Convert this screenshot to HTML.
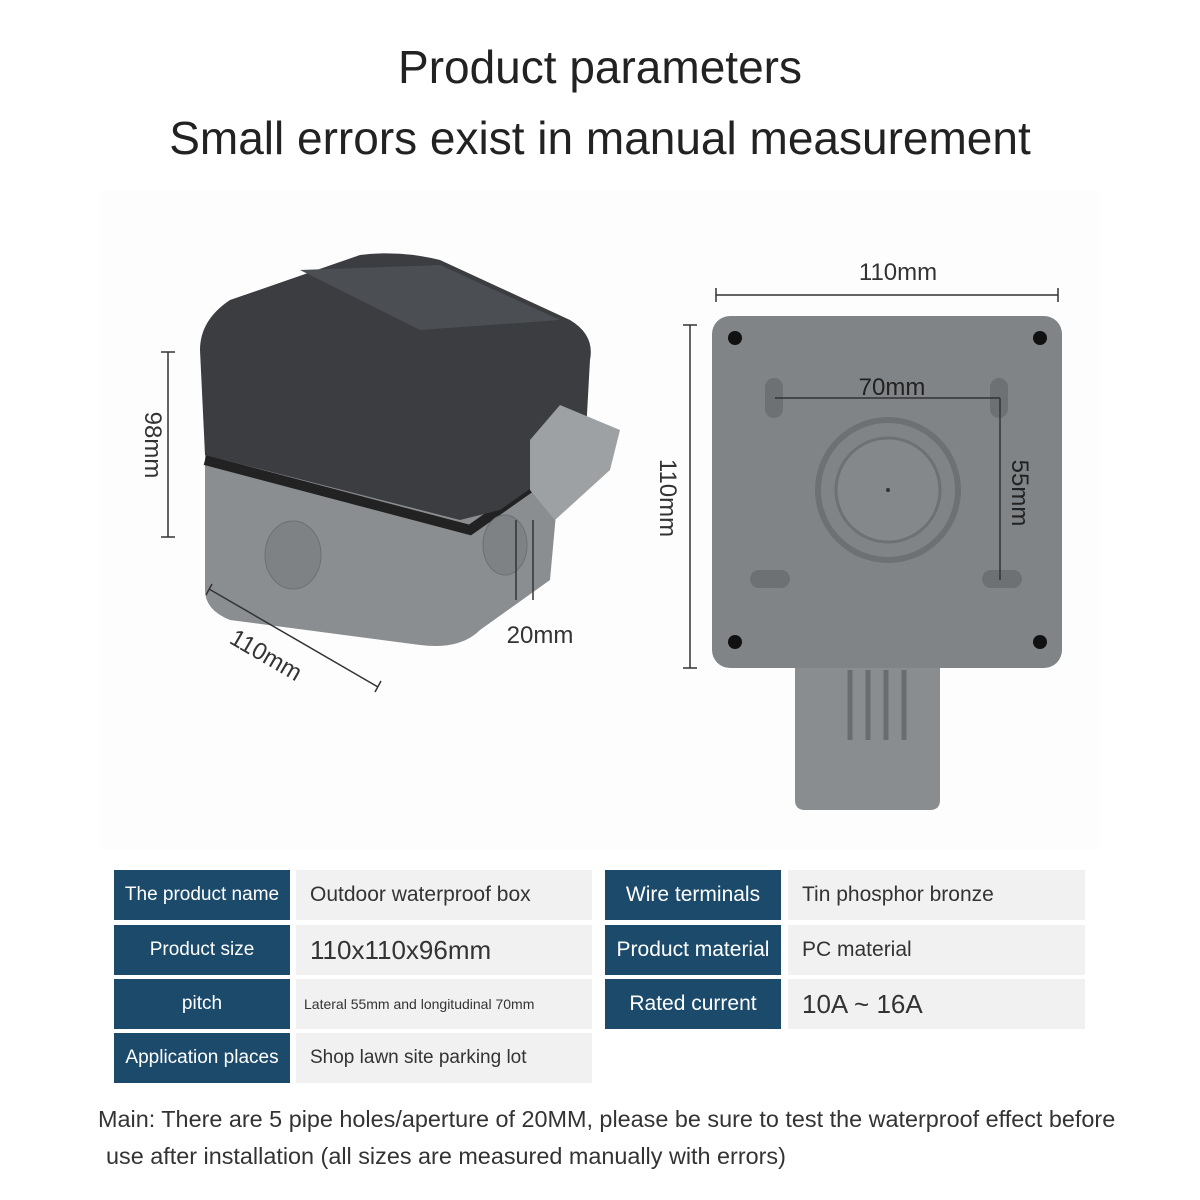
<!DOCTYPE html>
<html><head><style>
body{margin:0;width:1200px;height:1200px;background:#fff;font-family:"Liberation Sans",sans-serif;position:relative;overflow:hidden}
.t{position:absolute;left:0;width:1200px;text-align:center;color:#222}
.c{position:absolute;display:flex;align-items:center;font-size:20px}
.l{background:#1b4a6b;color:#fff;justify-content:center;font-size:19px}
.v{background:#f1f1f1;color:#333;padding-left:14px;box-sizing:border-box;font-size:21px}
.note{position:absolute;left:98px;font-size:23.4px;color:#333;white-space:nowrap}
</style></head><body>
<div class="t" style="top:40px;font-size:46px">Product parameters</div>
<div class="t" style="top:111px;font-size:46px">Small errors exist in manual measurement</div>
<div style="position:absolute;left:100px;top:190px;width:1000px;height:660px;background:#fdfdfd"></div>
<svg style="position:absolute;left:0;top:0" width="1200" height="860">
<path d="M205 450 L205 590 Q205 610 230 620 L420 645 Q460 650 480 630 L550 580 L560 470 Z" fill="#8b8e91"/>
<path d="M205 460 L470 530 L555 470" stroke="#222" stroke-width="10" fill="none"/>
<path d="M200 350 Q200 320 230 300 L360 255 Q400 250 440 260 L570 320 Q595 335 590 360 L585 450 L500 510 L460 520 L205 455 Z" fill="#3b3d40"/>
<path d="M300 270 L440 265 L560 320 L420 330 Z" fill="#4b4e52"/>
<path d="M530 440 L560 405 L620 430 L610 470 L555 520 L530 490 Z" fill="#9ea1a4"/>
<ellipse cx="293" cy="555" rx="28" ry="34" fill="#7f8285" stroke="#6d7073"/>
<ellipse cx="505" cy="545" rx="22" ry="30" fill="#7f8285" stroke="#6d7073"/>
<g stroke="#333" stroke-width="1.5" fill="none">
<line x1="168" y1="352" x2="168" y2="537"/><line x1="161" y1="352" x2="175" y2="352"/><line x1="161" y1="537" x2="175" y2="537"/>
<line x1="209" y1="589" x2="378" y2="687"/><line x1="206" y1="595" x2="212" y2="584"/><line x1="375" y1="692" x2="381" y2="681"/>
<line x1="516" y1="520" x2="516" y2="600"/><line x1="533" y1="520" x2="533" y2="600"/>
<line x1="716" y1="295" x2="1058" y2="295"/><line x1="716" y1="288" x2="716" y2="302"/><line x1="1058" y1="288" x2="1058" y2="302"/>
<line x1="690" y1="325" x2="690" y2="668"/><line x1="683" y1="325" x2="697" y2="325"/><line x1="683" y1="668" x2="697" y2="668"/>
</g>
<text x="145" y="445" font-size="24" fill="#333" transform="rotate(90 145 445)" text-anchor="middle" font-family="Liberation Sans">98mm</text>
<text x="262" y="662" font-size="24" fill="#333" transform="rotate(30 262 662)" text-anchor="middle" font-family="Liberation Sans">110mm</text>
<text x="540" y="643" font-size="24" fill="#333" text-anchor="middle" font-family="Liberation Sans">20mm</text>
<text x="898" y="280" font-size="24" fill="#333" text-anchor="middle" font-family="Liberation Sans">110mm</text>
<text x="660" y="498" font-size="24" fill="#333" transform="rotate(90 660 498)" text-anchor="middle" font-family="Liberation Sans">110mm</text>
<path d="M795 660 L940 660 L940 800 Q940 810 930 810 L805 810 Q795 810 795 800 Z" fill="#8a8d90"/>
<g stroke="#6a6d70" stroke-width="5"><line x1="850" y1="670" x2="850" y2="740"/><line x1="868" y1="670" x2="868" y2="740"/><line x1="886" y1="670" x2="886" y2="740"/><line x1="904" y1="670" x2="904" y2="740"/></g>
<rect x="712" y="316" width="350" height="352" rx="18" fill="#818487"/>
<circle cx="888" cy="490" r="70" fill="none" stroke="#6e7174" stroke-width="6"/>
<circle cx="888" cy="490" r="52" fill="#85888b" stroke="#6e7174" stroke-width="3"/>
<circle cx="888" cy="490" r="2" fill="#333"/>
<g fill="#6e7174"><rect x="765" y="378" width="18" height="40" rx="9"/><rect x="990" y="378" width="18" height="40" rx="9"/><rect x="750" y="570" width="40" height="18" rx="9"/><rect x="982" y="570" width="40" height="18" rx="9"/></g>
<g fill="#111"><circle cx="735" cy="338" r="7"/><circle cx="1040" cy="338" r="7"/><circle cx="735" cy="642" r="7"/><circle cx="1040" cy="642" r="7"/></g>
<line x1="775" y1="398" x2="1000" y2="398" stroke="#333" stroke-width="1.5"/>
<line x1="1000" y1="398" x2="1000" y2="580" stroke="#333" stroke-width="1.5"/>
<text x="892" y="395" font-size="24" fill="#222" text-anchor="middle" font-family="Liberation Sans">70mm</text>
<text x="1012" y="493" font-size="24" fill="#222" transform="rotate(90 1012 493)" text-anchor="middle" font-family="Liberation Sans">55mm</text>
</svg>
<div class="c l" style="left:114px;top:870px;width:176px;height:50px">The product name</div>
<div class="c v" style="left:296px;top:870px;width:296px;height:50px">Outdoor waterproof box</div>
<div class="c l" style="left:114px;top:925px;width:176px;height:50px">Product size</div>
<div class="c v" style="left:296px;top:925px;width:296px;height:50px;font-size:26px">110x110x96mm</div>
<div class="c l" style="left:114px;top:979px;width:176px;height:50px">pitch</div>
<div class="c v" style="left:296px;top:979px;width:296px;height:50px;font-size:14px;padding-left:8px">Lateral 55mm and longitudinal 70mm</div>
<div class="c l" style="left:114px;top:1033px;width:176px;height:50px">Application places</div>
<div class="c v" style="left:296px;top:1033px;width:296px;height:50px;font-size:19px">Shop lawn site parking lot</div>
<div class="c l" style="left:605px;top:870px;width:176px;height:50px;font-size:21px">Wire terminals</div>
<div class="c v" style="left:788px;top:870px;width:297px;height:50px">Tin phosphor bronze</div>
<div class="c l" style="left:605px;top:925px;width:176px;height:50px;font-size:21px">Product material</div>
<div class="c v" style="left:788px;top:925px;width:297px;height:50px">PC material</div>
<div class="c l" style="left:605px;top:979px;width:176px;height:50px;font-size:21px">Rated current</div>
<div class="c v" style="left:788px;top:979px;width:297px;height:50px;font-size:26px">10A ~ 16A</div>
<div class="note" style="top:1106px">Main: There are 5 pipe holes/aperture of 20MM, please be sure to test the waterproof effect before</div>
<div class="note" style="top:1143px;left:106px">use after installation (all sizes are measured manually with errors)</div>
</body></html>
